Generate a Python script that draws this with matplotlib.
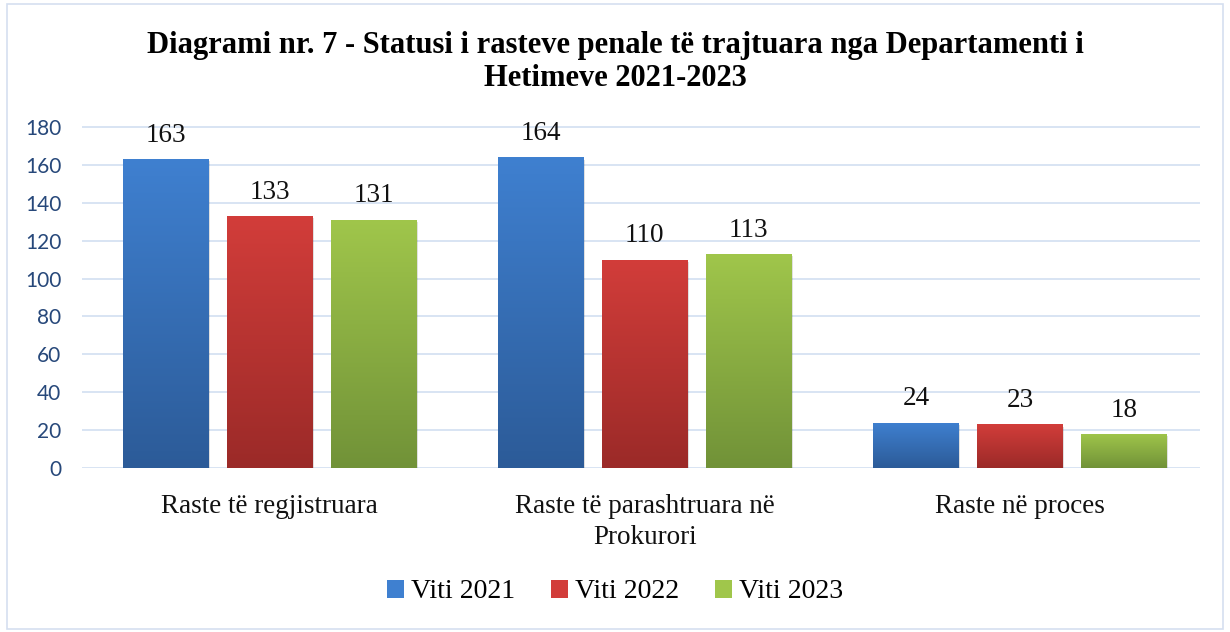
import numpy as np
import matplotlib.pyplot as plt
from matplotlib.patches import Rectangle
from matplotlib.colors import LinearSegmentedColormap

# data
categories = ["Raste të regjistruara", "Raste të parashtruara në\nProkurori", "Raste në proces"]
years = ["Viti 2021", "Viti 2022", "Viti 2023"]
v2021 = [163, 164, 24]
v2022 = [133, 110, 23]
v2023 = [131, 113, 18]
series = [v2021, v2022, v2023]

# (top colour, bottom colour) for the gradient fill
colors = [("#3f80d0", "#2c5b98"), ("#d23d3a", "#9b2a28"), ("#a0c64b", "#719238")]

serif = ["Liberation Serif", "DejaVu Serif"]

fig = plt.figure(figsize=(12.3, 6.32), dpi=100)
ax = fig.add_axes([82 / 1230, 1 - 468 / 632, 1118 / 1230, 341 / 632 * 200 / 180])

# figure border
fig.patches.append(Rectangle((7 / 1230, 3 / 632), 1216 / 1230, 625 / 632, transform=fig.transFigure,
                             fill=False, edgecolor="#d5dff0", lw=1.2))

x = np.arange(len(categories))
width = 0.227
step = 0.277
grad = np.linspace(1, 0, 256).reshape(-1, 1)

for i, (vals, (top, bot)) in enumerate(zip(series, colors)):
    cmap = LinearSegmentedColormap.from_list("g%d" % i, [bot, top])
    for xc, v in zip(x + (i - 1) * step, vals):
        # soft shadow under the bar
        ax.add_patch(Rectangle((xc - width / 2 + 0.004, -1.2), width, v, facecolor="#000000",
                               alpha=0.12, lw=0, zorder=2))
        bar = ax.bar(xc, v, width, color=top, zorder=3, lw=0)[0]
        im = ax.imshow(grad, extent=[xc - width / 2, xc + width / 2, 0, v], cmap=cmap,
                       aspect="auto", zorder=3.5, vmin=0, vmax=1)
        im.set_clip_path(bar)
        ax.text(xc, v + 6, str(v), ha="center", va="bottom", fontsize=19.5,
                family=serif, color="#111111", zorder=5)

ax.set_xlim(-0.5, 2.48)
ax.set_ylim(0, 200)
ax.set_yticks(range(0, 181, 20))
ax.set_xticks(x)
ax.set_xticklabels(categories, family=serif, fontsize=19.5, color="#111111", linespacing=1.3)
ax.tick_params(axis="x", length=0, pad=19)
ax.tick_params(axis="y", length=0, pad=15, labelsize=15, labelcolor="#27487a")
for lab in ax.get_yticklabels():
    lab.set_family(["Lato", "DejaVu Sans"])
ax.grid(axis="y", color="#d6e2f2", lw=1.3, zorder=0)
for s in ax.spines.values():
    s.set_visible(False)
ax.set_axisbelow(True)

fig.text(0.5, 1 - 45 / 632, "Diagrami nr. 7 - Statusi i rasteve penale të trajtuara nga Departamenti i",
         ha="center", va="center", fontsize=22, fontweight="bold", family=serif)
fig.text(0.5, 1 - 78 / 632, "Hetimeve 2021-2023", ha="center", va="center",
         fontsize=22, fontweight="bold", family=serif)

handles = [Rectangle((0, 0), 1, 1, facecolor=c[0]) for c in colors]
fig.legend(handles, years, loc="center", bbox_to_anchor=(0.5, 1 - 592 / 632), ncol=3,
           frameon=False, prop={"family": serif, "size": 20}, handlelength=0.6,
           handleheight=0.6, handletextpad=0.25, columnspacing=1.3)

fig.savefig("out.png", dpi=100)
